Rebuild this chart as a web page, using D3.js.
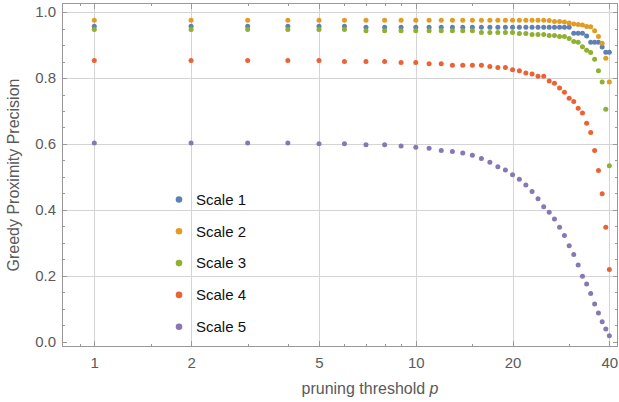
<!DOCTYPE html>
<html>
<head>
<meta charset="utf-8">
<script src="https://cdn.jsdelivr.net/npm/d3@7"></script>
<style>
  html, body { margin: 0; padding: 0; background: #fff; }
  svg { display: block; font-family: "Liberation Sans", Arial, Helvetica, sans-serif; }
</style>
</head>
<body>
<svg id="chart" width="619" height="402"></svg>
<script>
const thresholds = [1,2,3,4,5,6,7,8,9,10,11,12,13,14,15,16,17,18,19,20,21,22,23,24,25,26,27,28,29,30,31,32,33,34,35,36,37,38,39,40];

const scale1 = [0.957,0.957,0.957,0.957,0.957,0.957,0.954,0.954,0.954,0.954,
                0.954,0.954,0.954,0.954,0.954,0.954,0.954,0.954,0.954,0.954,
                0.954,0.954,0.954,0.954,0.954,0.954,0.954,0.954,0.954,0.954,
                0.936,0.936,0.936,0.927,0.908,0.908,0.908,0.894,0.878,0.878];
const scale2 = [0.975,0.975,0.975,0.975,0.975,0.975,0.975,0.975,0.975,0.975,
                0.975,0.975,0.975,0.975,0.975,0.975,0.975,0.975,0.975,0.975,
                0.975,0.975,0.975,0.975,0.975,0.974,0.971,0.971,0.970,0.967,
                0.964,0.962,0.961,0.956,0.955,0.943,0.926,0.905,0.860,0.788];
const scale3 = [0.947,0.947,0.947,0.947,0.947,0.947,0.943,0.943,0.943,0.943,
                0.943,0.943,0.943,0.943,0.943,0.938,0.938,0.938,0.938,0.938,
                0.935,0.935,0.932,0.932,0.932,0.929,0.929,0.926,0.926,0.920,
                0.911,0.908,0.895,0.884,0.877,0.857,0.822,0.788,0.705,0.534];
const scale4 = [0.853,0.853,0.853,0.853,0.853,0.850,0.850,0.850,0.847,0.847,
                0.843,0.843,0.839,0.839,0.839,0.839,0.835,0.832,0.832,0.825,
                0.822,0.815,0.812,0.805,0.805,0.791,0.784,0.770,0.757,0.739,
                0.729,0.708,0.694,0.663,0.635,0.580,0.520,0.449,0.348,0.220];
const scale5 = [0.603,0.603,0.603,0.603,0.601,0.601,0.598,0.598,0.594,0.590,
                0.587,0.580,0.577,0.573,0.566,0.556,0.545,0.531,0.521,0.507,
                0.493,0.476,0.456,0.434,0.410,0.393,0.373,0.348,0.323,0.292,
                0.265,0.233,0.199,0.176,0.147,0.115,0.088,0.061,0.039,0.019];

const seriesNames = ["Scale 1","Scale 2","Scale 3","Scale 4","Scale 5"];
const seriesColors = ["#5E81B5","#E19C24","#8FB032","#EB6235","#8778B3"];
const xMajorTicks = [1,2,5,10,20,40];
const xMinorTicks = [0.9,1.5,3,4,6,7,8,9,15,30];
const yMajorTicks = [0,0.2,0.4,0.6,0.8,1.0];
const yMinorTicks = [0.05,0.1,0.15,0.25,0.3,0.35,0.45,0.5,0.55,0.65,0.7,0.75,0.85,0.9,0.95];

const allSeries = [scale1, scale2, scale3, scale4, scale5];

const svg = d3.select("#chart");
const L = 62, R = 618, T = 3, B = 347;

const x = d3.scaleLog().domain([0.7935, 42.56]).range([L, R]);
const y = d3.scaleLinear().domain([-0.0152, 1.0273]).range([B, T]);

const frameColor = "#999999";
const gridColor = "#d4d4d4";
const labelColor = "#5a5a5a";

// gridlines
const grid = svg.append("g");
grid.selectAll("line.vx").data(xMajorTicks).join("line")
  .attr("x1", d => Math.round(x(d)) + 0.5).attr("x2", d => Math.round(x(d)) + 0.5)
  .attr("y1", T).attr("y2", B)
  .attr("stroke", gridColor).attr("stroke-width", 1);
grid.selectAll("line.hy").data(yMajorTicks.filter(d => d > 0)).join("line")
  .attr("x1", L).attr("x2", R)
  .attr("y1", d => Math.round(y(d)) + 0.5).attr("y2", d => Math.round(y(d)) + 0.5)
  .attr("stroke", gridColor).attr("stroke-width", 1);

// axes (ticks inward)
const bottomAxis = d3.axisBottom(x).tickValues(xMajorTicks).tickFormat(d3.format("d")).tickSize(0).tickPadding(0);
const gB = svg.append("g").attr("transform", `translate(0,${B})`).call(bottomAxis);
gB.select(".domain").remove();
gB.selectAll("text").attr("y", 10).attr("fill", labelColor).style("font-size", "15px")
  .attr("font-family", "'Liberation Sans', Arial, sans-serif");

const leftAxis = d3.axisLeft(y).tickValues(yMajorTicks).tickFormat(d3.format(".1f")).tickSize(0).tickPadding(6);
const gL = svg.append("g").attr("transform", `translate(${L},0)`).call(leftAxis);
gL.select(".domain").remove();
gL.selectAll("text").attr("fill", labelColor).style("font-size", "15px")
  .attr("font-family", "'Liberation Sans', Arial, sans-serif");

// frame
const frame = svg.append("g").attr("stroke", frameColor).attr("stroke-width", 1).attr("fill", "none");
frame.append("rect").attr("x", L + 0.5).attr("y", T + 0.5).attr("width", R - L - 1).attr("height", B - T - 1);

function xTicks(vals, len) {
  vals.forEach(v => {
    const px = Math.round(x(v)) + 0.5;
    frame.append("line").attr("x1", px).attr("x2", px).attr("y1", B).attr("y2", B - len);
    frame.append("line").attr("x1", px).attr("x2", px).attr("y1", T).attr("y2", T + len);
  });
}
function yTicks(vals, len) {
  vals.forEach(v => {
    const py = Math.round(y(v)) + 0.5;
    frame.append("line").attr("x1", L).attr("x2", L + len).attr("y1", py).attr("y2", py);
    frame.append("line").attr("x1", R).attr("x2", R - len).attr("y1", py).attr("y2", py);
  });
}
xTicks(xMajorTicks, 6); xTicks(xMinorTicks, 3);
yTicks(yMajorTicks, 5); yTicks(yMinorTicks, 3);

// points
allSeries.forEach((vals, i) => {
  svg.append("g").selectAll("circle").data(vals).join("circle")
    .attr("cx", (d, j) => x(thresholds[j]))
    .attr("cy", d => y(d))
    .attr("r", 2.5)
    .attr("fill", seriesColors[i]);
});

// axis labels
const xl = svg.append("text")
  .attr("x", (L + R) / 2 + 30).attr("y", 394)
  .attr("text-anchor", "middle").attr("fill", labelColor)
  .style("font-size", "16px");
xl.append("tspan").text("pruning threshold ");
xl.append("tspan").attr("font-style", "italic").text("p");

svg.append("text")
  .attr("transform", `translate(19,${(T + B) / 2}) rotate(-90)`)
  .attr("text-anchor", "middle").attr("fill", labelColor)
  .style("font-size", "16px")
  .text("Greedy Proximity Precision");

// legend
const legend = svg.append("g");
seriesNames.forEach((name, i) => {
  const cy = 199.5 + i * 31.8;
  legend.append("circle").attr("cx", 179).attr("cy", cy).attr("r", 3.3).attr("fill", seriesColors[i]);
  legend.append("text").attr("x", 196).attr("y", cy).attr("dy", "0.35em")
    .attr("fill", "#111").style("font-size", "15px").text(name);
});
</script>
</body>
</html>
